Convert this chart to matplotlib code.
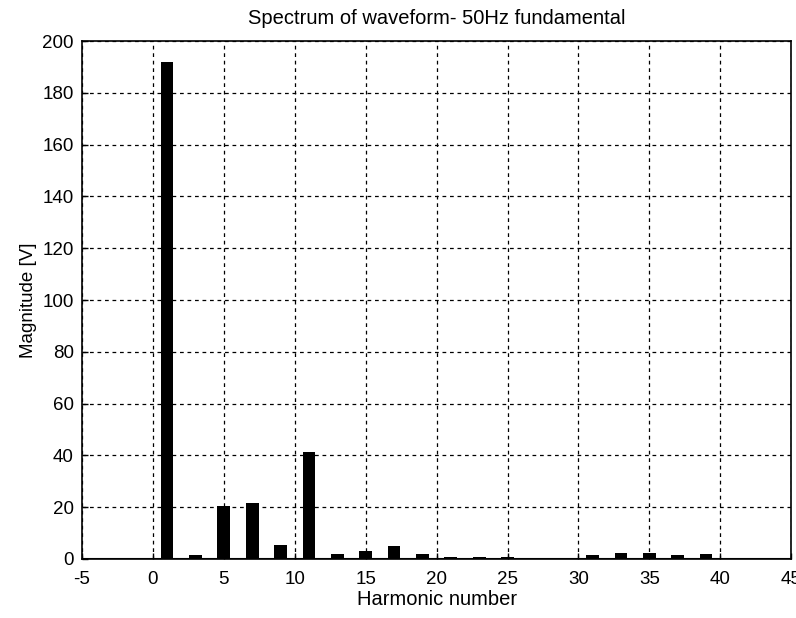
import matplotlib.pyplot as plt
import numpy as np

# harmonic spectrum (odd harmonics only)
harmonics = [1, 3, 5, 7, 9, 11, 13, 15, 17, 19, 21, 23, 25, 27, 29, 31, 33, 35, 37, 39]
magnitude = [192, 1.5, 20.5, 21.5, 5.5, 41.5, 2, 3, 5, 2, 0.8, 0.6, 0.8, 0.5, 0.5, 1.5, 2.5, 2.5, 1.5, 2]

x_ticks = [-5, 0, 5, 10, 15, 20, 25, 30, 35, 40, 45]
y_ticks = [0, 20, 40, 60, 80, 100, 120, 140, 160, 180, 200]

plt.rcParams['font.family'] = ['Liberation Sans', 'DejaVu Sans']
plt.rcParams['axes.unicode_minus'] = False

fig = plt.figure(figsize=(7.96, 6.18), dpi=100)
ax = fig.add_axes([0.103, 0.0955, 0.891, 0.838])

ax.bar(harmonics, magnitude, width=0.9, color='black', zorder=3)
ax.axhline(0, color='black', linewidth=1.5, zorder=4)

ax.set_xlim(-5, 45)
ax.set_ylim(0, 200)
ax.set_xticks(x_ticks)
ax.set_yticks(y_ticks)
ax.tick_params(direction='in', length=4, labelsize=13.5, width=1)
ax.tick_params(axis='x', pad=9)
ax.tick_params(axis='y', pad=6)
ax.grid(True, color='black', linestyle=(0, (3, 3)), linewidth=0.9, zorder=1)
for s in ax.spines.values():
    s.set_linewidth(1.2)

ax.set_title('Spectrum of waveform- 50Hz fundamental', fontsize=14.5, pad=12)
ax.set_xlabel('Harmonic number', fontsize=14.5, labelpad=1)
ax.set_ylabel('Magnitude [V]', fontsize=13.5, labelpad=4)

fig.savefig('out.png', dpi=100)
